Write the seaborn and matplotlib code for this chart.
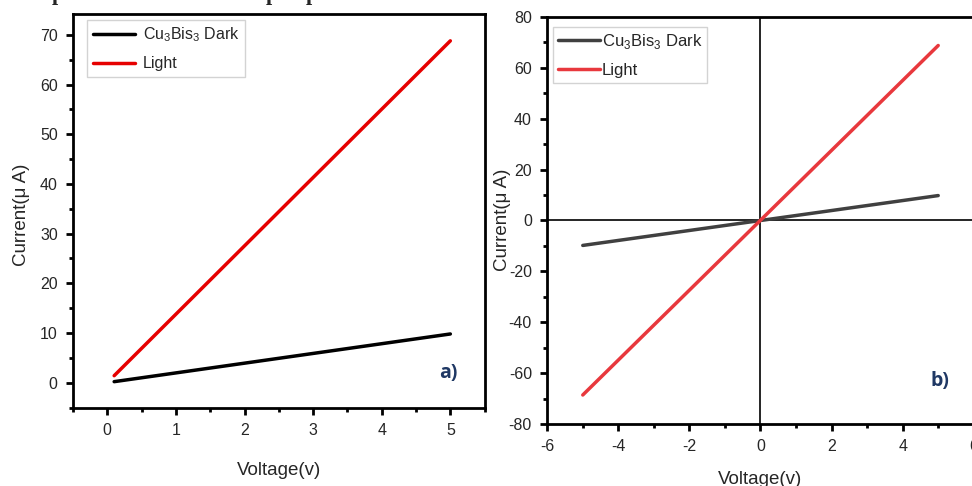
import matplotlib
matplotlib.use("Agg")
import matplotlib.pyplot as plt
import seaborn as sns
import pandas as pd
from matplotlib.ticker import MultipleLocator

# panel a) forward bias
volt_a = [0.1, 5.0]
dark_a = [0.2, 9.8]
light_a = [1.4, 68.8]

# panel b) full sweep
volt_b = [-5.0, 5.0]
dark_b = [-9.8, 9.8]
light_b = [-68.6, 68.8]

dark_label = r"Cu$_3$Bis$_3$ Dark"
light_label = "Light"

sns.set_style("white")
plt.rcParams["font.family"] = ["Liberation Sans", "DejaVu Sans"]
plt.rcParams["mathtext.fontset"] = "custom"
plt.rcParams["mathtext.rm"] = "Liberation Sans"
plt.rcParams["axes.unicode_minus"] = False

fig = plt.figure(figsize=(9.72, 4.86), dpi=100)
ax1 = fig.add_axes([0.0751, 0.1605, 0.4235, 0.8107])
ax2 = fig.add_axes([0.5630, 0.1276, 0.4388, 0.8374])

df_a = pd.DataFrame({"v": volt_a * 2, "i": dark_a + light_a,
                     "s": [dark_label] * 2 + [light_label] * 2})
df_b = pd.DataFrame({"v": volt_b * 2, "i": dark_b + light_b,
                     "s": [dark_label] * 2 + [light_label] * 2})

sns.lineplot(data=df_a, x="v", y="i", hue="s", palette=["#000000", "#e60000"],
             linewidth=2.5, ax=ax1)
sns.lineplot(data=df_b, x="v", y="i", hue="s", palette=["#404040", "#e8383d"],
             linewidth=2.5, ax=ax2)

ax2.axhline(0, color="black", linewidth=1.2, zorder=1)
ax2.axvline(0, color="black", linewidth=1.2, zorder=1)

ax1.set_xlim(-0.5, 5.5)
ax1.set_ylim(-5.1, 74.2)
ax1.xaxis.set_major_locator(MultipleLocator(1))
ax1.xaxis.set_minor_locator(MultipleLocator(0.5))
ax1.yaxis.set_major_locator(MultipleLocator(10))
ax1.yaxis.set_minor_locator(MultipleLocator(5))

ax2.set_xlim(-6, 6)
ax2.set_ylim(-80, 80)
ax2.xaxis.set_major_locator(MultipleLocator(2))
ax2.xaxis.set_minor_locator(MultipleLocator(1))
ax2.yaxis.set_major_locator(MultipleLocator(20))
ax2.yaxis.set_minor_locator(MultipleLocator(10))

for ax in (ax1, ax2):
    for sp in ax.spines.values():
        sp.set_color("black")
        sp.set_linewidth(2.0)
        sp.set_visible(True)
    ax.tick_params(axis="both", which="major", direction="out", length=5, width=2,
                   labelsize=11.5, color="black", bottom=True, left=True, pad=6)
    ax.tick_params(axis="both", which="minor", direction="out", length=3, width=2,
                   color="black", bottom=True, left=True)
    ax.set_xlabel("")
    ax.set_ylabel("")

ax1.legend(loc="upper left", bbox_to_anchor=(0.035, 0.985), borderaxespad=0,
           frameon=True, fancybox=False, edgecolor="#c8c8c8", fontsize=11.5,
           handlelength=2.6, handletextpad=0.5, borderpad=0.35, labelspacing=0.75)
ax2.legend(loc="upper left", bbox_to_anchor=(0.014, 0.975), borderaxespad=0,
           frameon=True, fancybox=False, edgecolor="#c8c8c8", fontsize=12,
           handlelength=2.5, handletextpad=0.1, borderpad=0.3, labelspacing=0.7)

fig.text(22 / 972, 1 - 215 / 486, "Current(\u03bc A)", rotation=90, ha="center", va="center", fontsize=13.5)
fig.text(279 / 972, 1 - 470 / 486, "Voltage(v)", ha="center", va="center", fontsize=13.5)
fig.text(502 / 972, 1 - 220 / 486, "Current(\u03bc A)", rotation=90, ha="center", va="center", fontsize=13.5)
fig.text(760 / 972, 1 - 479 / 486, "Voltage(v)", ha="center", va="center", fontsize=13.5)

fig.text(448 / 972, 1 - 373 / 486, "a)", ha="center", va="center", fontsize=14,
         fontweight="bold", color="#1f3864", family="Open Sans")
fig.text(940 / 972, 1 - 381 / 486, "b)", ha="center", va="center", fontsize=14,
         fontweight="bold", color="#1f3864", family="Open Sans")

# descenders of the document text above the figure
for px in (58, 272, 312):
    fig.text(px / 972, 1.0, "p", ha="center", va="baseline", fontsize=16,
             fontweight="bold", family="Liberation Serif")

fig.savefig("out.png", dpi=100)
